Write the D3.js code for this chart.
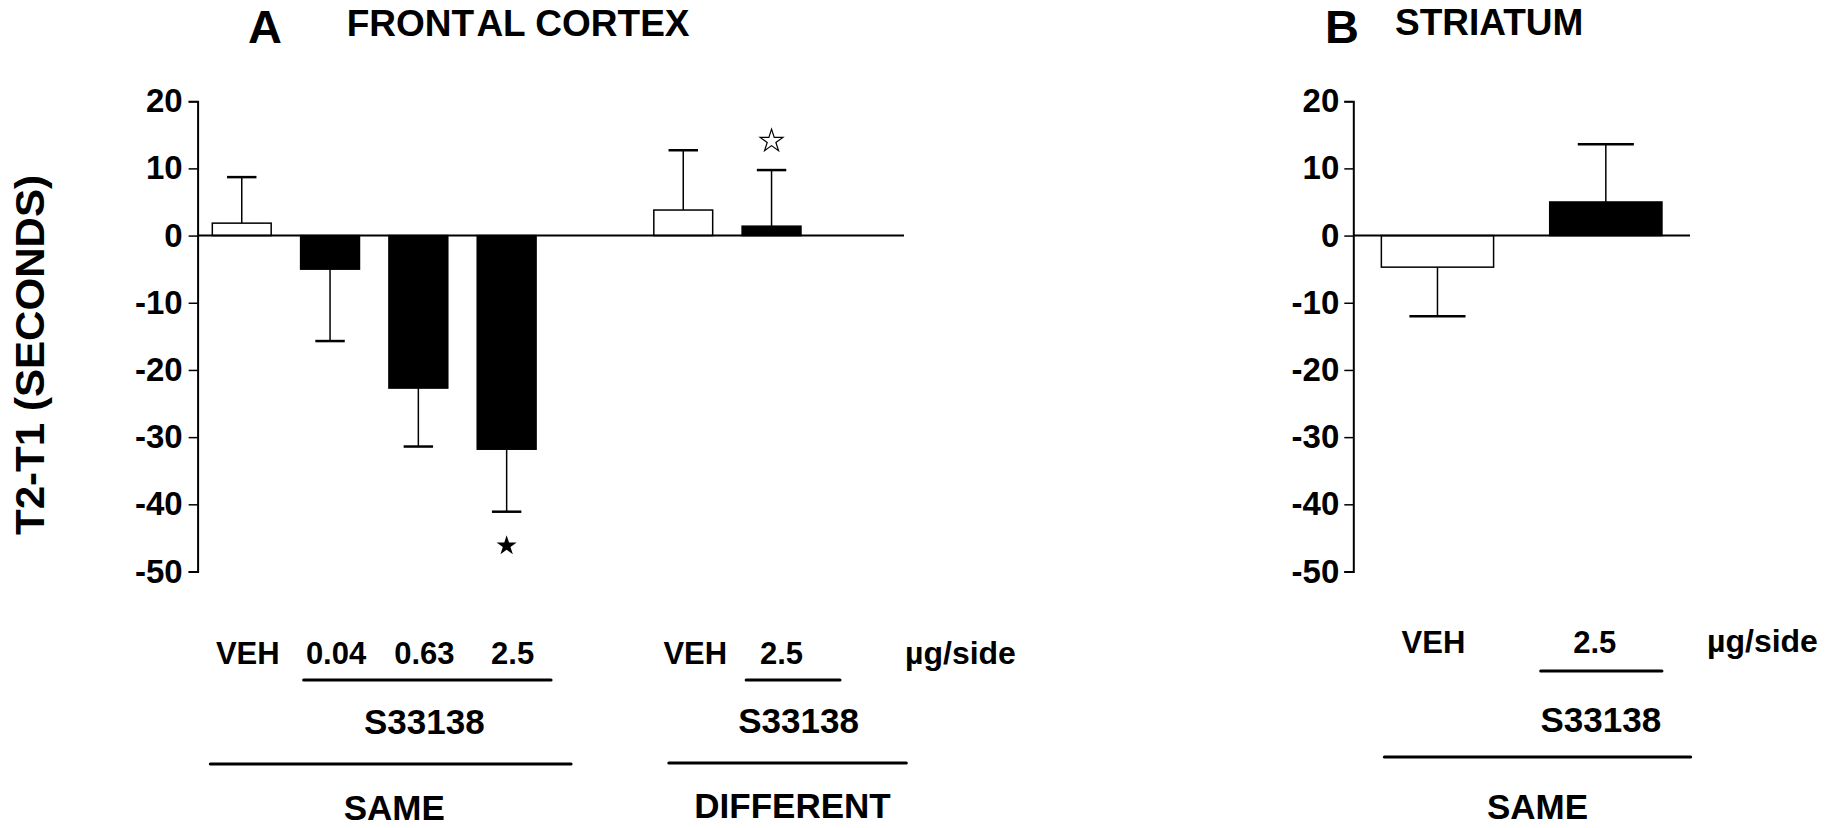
<!DOCTYPE html>
<html>
<head>
<meta charset="utf-8">
<script src="https://cdn.jsdelivr.net/npm/d3@7"></script>
<style>
  html, body { margin: 0; padding: 0; background: #fff; }
  svg { display: block; }
  text { font-family: "Liberation Sans", Arial, Helvetica, sans-serif; font-weight: bold; fill: #000; }
</style>
</head>
<body>
<svg id="chart" width="1837" height="828"></svg>
<script>
// ---- data ----
// Frontal cortex: 8 slots, slots 4 and 7 are empty spacers between groups
const frontalDoses = ["VEH", "0.04", "0.63", "2.5", null, "VEH", "2.5", null];
const frontalMeans = [1.85, -5.0, -22.7, -31.8, null, 3.8, 1.4, null];
const frontalSem   = [6.85, 10.7, 8.7, 9.3, null, 8.9, 8.35, null];
const frontalDrug  = [false, true, true, true, null, false, true, null];
// significance markers: filled = vs vehicle, open = vs same-side 2.5
const frontalMarks = [{ slot: 3, kind: "filled" }, { slot: 6, kind: "open" }];

const striatumDoses = ["VEH", "2.5"];
const striatumMeans = [-4.7, 5.0];
const striatumSem   = [7.3, 8.6];
const striatumDrug  = [false, true];

const yTicks = [20, 10, 0, -10, -20, -30, -40, -50];
const yDomain = [-50, 20];

const svg = d3.select("#chart");
svg.append("rect").attr("width", 1837).attr("height", 828).attr("fill", "#fff");

const y = d3.scaleLinear().domain(yDomain).range([571.5, 101.2]);

function drawPanel(opt) {
  const g = svg.append("g");
  const n = opt.means.length;
  const x = d3.scaleBand().domain(d3.range(n))
    .range([opt.x0, opt.x1]).paddingInner(1 / 3).paddingOuter(1 / 6);
  const bw = x.bandwidth();

  // y axis (plain hyphen for negative ticks)
  const axis = d3.axisLeft(y).tickValues(yTicks).tickSizeOuter(0)
    .tickSize(9).tickPadding(opt.tickPad).tickFormat(d => String(d));
  const ag = g.append("g").attr("transform", `translate(${opt.x0},0)`).call(axis);
  ag.select(".domain").attr("stroke", "#000").attr("stroke-width", 2);
  ag.selectAll(".tick line").attr("stroke", "#000").attr("stroke-width", 1.5);
  ag.selectAll(".tick text")
    .style("font-family", '"Liberation Sans", Arial, sans-serif')
    .style("font-weight", "bold").style("font-size", "33px").attr("fill", "#000");

  const idx = d3.range(n).filter(i => opt.means[i] !== null);

  // error bars (one-sided, away from zero)
  const eb = g.append("g").selectAll("g").data(idx).join("g");
  const tip = i => opt.means[i] + Math.sign(opt.means[i]) * opt.sem[i];
  eb.append("line")
    .attr("x1", i => x(i) + bw / 2).attr("x2", i => x(i) + bw / 2)
    .attr("y1", i => y(opt.means[i])).attr("y2", i => y(tip(i)))
    .attr("stroke", "#000").attr("stroke-width", 1.5);
  eb.append("line")
    .attr("x1", i => x(i) + bw / 4).attr("x2", i => x(i) + bw * 3 / 4)
    .attr("y1", i => y(tip(i))).attr("y2", i => y(tip(i)))
    .attr("stroke", "#000").attr("stroke-width", 2.5);

  // bars
  g.append("g").selectAll("rect").data(idx).join("rect")
    .attr("x", i => x(i))
    .attr("width", bw)
    .attr("y", i => y(Math.max(0, opt.means[i])))
    .attr("height", i => Math.abs(y(opt.means[i]) - y(0)))
    .attr("fill", i => opt.drug[i] ? "#000" : "#fff")
    .attr("stroke", "#000").attr("stroke-width", 1.5);

  // zero line
  g.append("line")
    .attr("x1", opt.x0).attr("x2", opt.x1)
    .attr("y1", y(0)).attr("y2", y(0))
    .attr("stroke", "#000").attr("stroke-width", 2);

  // dose labels
  g.append("g").selectAll("text").data(idx).join("text")
    .attr("x", (i, k) => x(i) + bw / 2 + opt.labelShift[k])
    .attr("y", opt.doseY)
    .attr("text-anchor", "middle")
    .style("font-size", "31px")
    .text(i => opt.doses[i]);

  return { g, x, bw, tip };
}

function hline(x1, x2, yy, w) {
  svg.append("line").attr("x1", x1).attr("x2", x2).attr("y1", yy).attr("y2", yy)
    .attr("stroke", "#000").attr("stroke-width", w).attr("stroke-linecap", "round");
}
function label(txt, xx, yy, size, anchor) {
  return svg.append("text").attr("x", xx).attr("y", yy)
    .attr("text-anchor", anchor || "middle").style("font-size", size + "px").text(txt);
}

// ---- panel A: frontal cortex ----
const A = drawPanel({
  x0: 197.6, x1: 904, tickPad: 6,
  means: frontalMeans, sem: frontalSem, drug: frontalDrug, doses: frontalDoses,
  doseY: 664, labelShift: [6, 6, 6, 6, 12, 10]
});
const ax = A.x, abw = A.bw;

// significance stars
const star = d3.symbol().type(d3.symbolStar);
frontalMarks.forEach(m => {
  const cx = ax(m.slot) + abw / 2;
  const capY = y(A.tip(m.slot));
  if (m.kind === "filled") {
    svg.append("path").attr("d", star.size(125)())
      .attr("transform", `translate(${cx},${capY + 34})`)
      .attr("fill", "#000");
  } else {
    svg.append("path").attr("d", star.size(160)())
      .attr("transform", `translate(${cx},${capY - 29})`)
      .attr("fill", "#fff").attr("stroke", "#000").attr("stroke-width", 1.2);
  }
});

label("µg/side", 905, 664, 32, "start");
// drug underline and group lines, spanning bars
hline(ax(1) + 3, ax(3) + abw + 15, 680, 3);
label("S33138", (ax(1) + ax(3) + abw) / 2 + 6, 734, 35);
hline(ax(0) - 2, ax(3) + abw + 35, 764, 3);
label("SAME", (ax(0) + ax(3) + abw) / 2 + 20, 820, 35);

hline(ax(6) + 4, ax(6) + abw + 39, 680, 3);
label("S33138", ax(6) + abw / 2 + 27, 733, 35);
hline(ax(5) + 15, ax(7) + abw + 17, 763, 3);
label("DIFFERENT", ax(6) + abw / 2 + 21, 818, 35);

// ---- panel B: striatum ----
const B = drawPanel({
  x0: 1353.3, x1: 1690, tickPad: 5,
  means: striatumMeans, sem: striatumSem, drug: striatumDrug, doses: striatumDoses,
  doseY: 653, labelShift: [-4, -11]
});
const bx = B.x, bbw = B.bw;
label("µg/side", 1707, 652, 32, "start");
hline(bx(1) - 9, bx(1) + bbw, 671, 3);
label("S33138", bx(1) + bbw / 2 - 5, 731.7, 35);
hline(bx(0) + 3, 1690.7, 757, 3);
label("SAME", 1537.5, 819, 35);

// ---- titles ----
label("A", 248, 43.3, 47, "start");
const tA = svg.append("text").attr("x", 346.7).attr("y", 36).style("font-size", "37px");
tA.append("tspan").text("FRONT");
tA.append("tspan").attr("dx", 5).text("AL CORTEX");
label("B", 1325, 43.3, 47, "start");
label("STRIATUM", 1395, 35, 37, "start");

// y-axis title
svg.append("text")
  .attr("transform", "translate(44,355) rotate(-90)")
  .attr("text-anchor", "middle")
  .style("font-size", "40px")
  .attr("textLength", 360).attr("lengthAdjust", "spacingAndGlyphs")
  .text("T2-T1 (SECONDS)");
</script>
</body>
</html>
